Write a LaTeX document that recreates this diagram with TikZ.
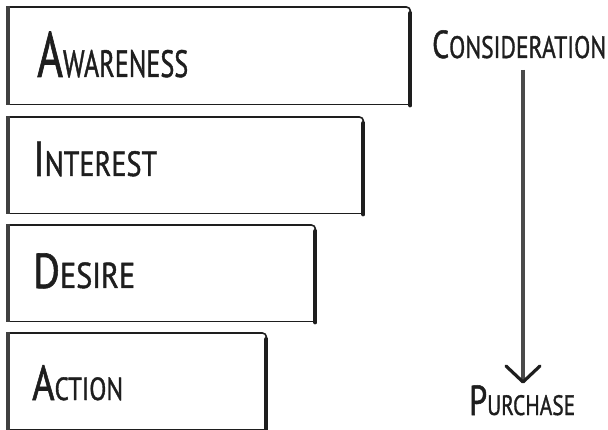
\documentclass[tikz,border=0pt]{standalone}
\usepackage{fontspec}
\newfontfamily\hand[FakeBold=1.3]{PT Sans}
\definecolor{ink}{HTML}{1E1E1E}
\definecolor{shaft}{HTML}{4A4A4A}
% first letter large, the rest as small capitals
\newcommand{\capword}[4]{{\hand\fontsize{#3}{#3}\selectfont #1\fontsize{#4}{#4}\selectfont #2}}
% set a word to a given width (in pt), keeping its height
\newcommand{\fitw}[2]{\setbox0\hbox{#2}\pgfmathsetmacro\fitfac{#1/\wd0}\scalebox{\fitfac}[1]{\box0}}
\begin{document}
\begin{tikzpicture}[x=1pt,y=-1pt,
  stage/.style={draw=none,inner sep=0pt,anchor=north west},
  edge/.style={draw=ink,line width=1.6pt},
  leftbar/.style={draw=ink!85,line width=3.6pt},
  rightbar/.style={draw=ink,line width=4pt,line cap=round},
  lbl/.style={inner sep=0pt,anchor=base west,text=ink},
  flow/.style={draw=shaft,line width=3.2pt},
  head/.style={draw=ink,line width=3.2pt,line cap=round,line join=round}]
\useasboundingbox (0,0) rectangle (608,430);
% the four stages of the funnel
\node[stage,minimum width=402pt,minimum height=97pt] (b1) at (8,7) {};
\node[stage,minimum width=355pt,minimum height=96pt] (b2) at (8,117) {};
\node[stage,minimum width=307pt,minimum height=96pt] (b3) at (8,225) {};
\node[stage,minimum width=258pt,minimum height=96pt] (b4) at (8,333) {};
\foreach \b in {b1,b2,b3,b4}{
  \draw[edge,rounded corners=4pt] (\b.north west) -- (\b.north east) -- ([yshift=-8pt]\b.north east);
  \draw[edge] (\b.south west) -- (\b.south east);
  \draw[leftbar] ([yshift=1pt]\b.north west) -- ([yshift=-1pt]\b.south west);
  \draw[rightbar] ([yshift=-6pt]\b.north east) -- ([yshift=-1pt]\b.south east);
}
\node[lbl] (t1) at (37,77) {\fitw{151}{\capword{A}{WARENESS}{64}{38}}};
\node[lbl] (t2) at (33,176) {\fitw{124}{\capword{I}{NTEREST}{49}{35}}};
\node[lbl] (t3) at (33,288) {\fitw{102}{\capword{D}{ESIRE}{49}{36}}};
\node[lbl] (t4) at (32,400) {\fitw{91}{\capword{A}{CTION}{49}{32}}};
% the path from consideration to purchase
\node[lbl] (cons) at (432,58) {\fitw{174}{\capword{C}{ONSIDERATION}{39}{31}}};
\node[lbl] (purch) at (469,415) {\fitw{106}{\capword{P}{URCHASE}{42}{28}}};
\coordinate (tip) at (523,382);
\draw[flow] (cons.base -| tip) ++(0,12) -- (tip);
\draw[head] ([xshift=-17pt,yshift=16pt]tip) -- (tip) -- ([xshift=17pt,yshift=16pt]tip);
\end{tikzpicture}
\end{document}
